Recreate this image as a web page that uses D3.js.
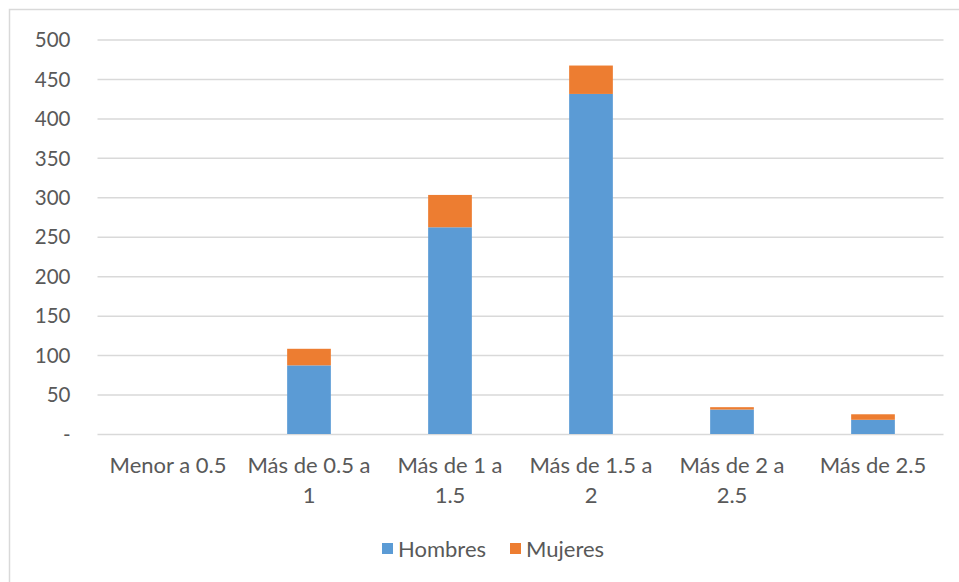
<!DOCTYPE html>
<html>
<head>
<meta charset="utf-8">
<script src="https://cdn.jsdelivr.net/npm/d3@7"></script>
<style>
  html, body { margin: 0; padding: 0; background: #ffffff; }
  svg { display: block; }
  text { font-family: Lato, "Open Sans", sans-serif; fill: #595959; }
</style>
</head>
<body>
<svg id="chart" width="959" height="582"></svg>
<script>
// Distribution by range, stacked by sex
const categories = ["Menor a 0.5", "Más de 0.5 a 1", "Más de 1 a 1.5", "Más de 1.5 a 2", "Más de 2 a 2.5", "Más de 2.5"];
const hombres = [0, 87, 262, 431, 31, 18];
const mujeres = [0, 21, 41, 36, 3, 7];
const seriesNames = ["Hombres", "Mujeres"];
const seriesColors = ["#5b9bd5", "#ed7d31"];
const yTickValues = [0, 50, 100, 150, 200, 250, 300, 350, 400, 450, 500];

const svg = d3.select("#chart");
const W = 959, H = 582;
const tickFont = 20.5;
const labelFont = 22;

// outer chart frame
svg.append("rect")
  .attr("x", 9.5).attr("y", 9.5)
  .attr("width", W + 10).attr("height", H + 10)
  .attr("fill", "none").attr("stroke", "#d9d9d9").attr("stroke-width", 1.5);

const y = d3.scaleLinear().domain([0, 500]).range([434, 39.5]);
const x = d3.scaleBand().domain(categories).range([97.5, 943.5])
  .paddingInner(0.69).paddingOuter(0.345);

// horizontal gridlines
const yAxis = d3.axisLeft(y).tickValues(yTickValues).tickSize(-(943.5 - 97.5))
  .tickFormat(d => d === 0 ? "-" : d3.format("d")(d));
const gy = svg.append("g").attr("transform", "translate(97.5,0)").call(yAxis);
gy.select(".domain").remove();
gy.selectAll(".tick line").attr("stroke", "#d9d9d9").attr("stroke-width", 1.5);
gy.selectAll(".tick text")
  .attr("x", -27)
  .attr("dy", "0.35em")
  .style("font-size", tickFont + "px")
  .style("font-family", "Lato, sans-serif")
  .attr("fill", "#595959");

// stacked bars
const rows = categories.map((c, i) => ({ cat: c, Hombres: hombres[i], Mujeres: mujeres[i] }));
const stacked = d3.stack().keys(seriesNames)(rows);
svg.append("g").selectAll("g")
  .data(stacked)
  .join("g")
  .attr("fill", (d, i) => seriesColors[i])
  .selectAll("rect")
  .data(d => d)
  .join("rect")
  .attr("x", d => x(d.data.cat))
  .attr("width", x.bandwidth())
  .attr("y", d => y(d[1]))
  .attr("height", d => y(d[0]) - y(d[1]));

// category labels, wrapped to the band width
const xAxis = d3.axisBottom(x).tickSize(0).tickPadding(0);
const gx = svg.append("g").attr("transform", "translate(0,434)").call(xAxis);
gx.select(".domain").remove();
const maxW = x.step() * 0.92;
gx.selectAll(".tick text").each(function(label) {
  const t = d3.select(this);
  t.text(null).attr("y", 0).attr("dy", null)
    .style("font-size", labelFont + "px").style("font-family", "Lato, sans-serif")
    .attr("fill", "#595959");
  const words = label.split(" ");
  const lines = [];
  let cur = [];
  const probe = t.append("tspan");
  words.forEach(w => {
    const trial = cur.concat([w]).join(" ");
    probe.text(trial);
    if (probe.node().getComputedTextLength() > maxW && cur.length) {
      lines.push(cur.join(" "));
      cur = [w];
    } else {
      cur.push(w);
    }
  });
  lines.push(cur.join(" "));
  probe.remove();
  lines.forEach((ln, i) => {
    t.append("tspan").attr("x", 0).attr("y", 39 + i * 30).text(ln);
  });
});

// legend
const legend = svg.append("g");
const legendItems = [{ name: "Hombres", x: 382 }, { name: "Mujeres", x: 510 }];
legendItems.forEach((it, i) => {
  legend.append("rect").attr("x", it.x).attr("y", 543).attr("width", 11).attr("height", 11)
    .attr("fill", seriesColors[i]);
  legend.append("text").attr("x", it.x + 16).attr("y", 549).attr("dy", "0.35em")
    .style("font-size", labelFont + "px").text(seriesNames[i]);
});
</script>
</body>
</html>
